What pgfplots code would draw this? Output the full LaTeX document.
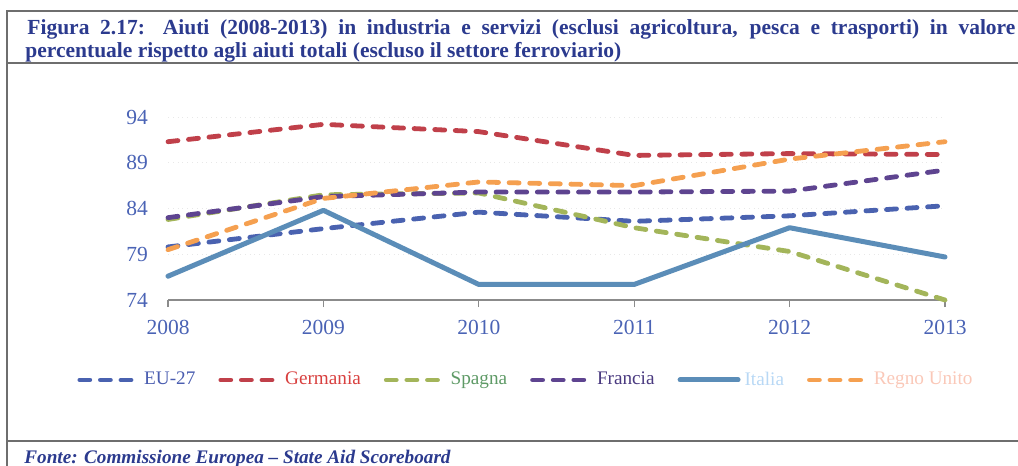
\documentclass[border=0pt]{standalone}
\usepackage{fontspec}
\setmainfont{Liberation Serif}
\usepackage{pgfplots}
\pgfplotsset{compat=1.18}
\definecolor{titleblue}{HTML}{2B3A8E}
\definecolor{tickblue}{HTML}{4A63B5}
\definecolor{cEU}{HTML}{4A62B0}
\definecolor{cDE}{HTML}{C0404A}
\definecolor{cES}{HTML}{A3B55A}
\definecolor{cFR}{HTML}{5E4490}
\definecolor{cIT}{HTML}{5B8DB8}
\definecolor{cUK}{HTML}{F5A050}
\definecolor{tEU}{HTML}{4A5DB0}
\definecolor{tDE}{HTML}{D8403F}
\definecolor{tES}{HTML}{5E9A66}
\definecolor{tFR}{HTML}{4A3A80}
\definecolor{tIT}{HTML}{B8D8F5}
\definecolor{tUK}{HTML}{FAC8B8}
\definecolor{framegray}{HTML}{6E6E6E}
\begin{document}
\begin{tikzpicture}
\path[use as bounding box] (0,0) rectangle (509pt,-233pt);
\clip (0,0) rectangle (509pt,-233pt);
% frame
\draw[framegray, line width=0.8pt] (3.5pt,-233pt) -- (3.5pt,-5.5pt) -- (509pt,-5.5pt);
\draw[framegray, line width=0.8pt] (3.5pt,-31.5pt) -- (509pt,-31.5pt);
\draw[framegray, line width=0.8pt] (3.5pt,-220.5pt) -- (509pt,-220.5pt);
% title
\node[anchor=base west, inner sep=0pt, text=titleblue, font=\fontsize{10.75}{10.5}\selectfont\bfseries] at (13.5pt,-17pt)
  {\makebox[494pt][s]{Figura 2.17: Aiuti (2008-2013) in industria e servizi (esclusi agricoltura, pesca e trasporti) in valore}};
\node[anchor=base west, inner sep=0pt, text=titleblue, font=\fontsize{10.75}{10.5}\selectfont\bfseries] at (12.5pt,-28.5pt)
  {percentuale rispetto agli aiuti totali (escluso il settore ferroviario)};
% source
\node[anchor=base west, inner sep=0pt, text=titleblue, font=\fontsize{9.6}{11}\selectfont\bfseries\itshape] at (12pt,-231.5pt)
  {Fonte: Commissione Europea – State Aid Scoreboard};
\begin{axis}[
  at={(84pt,-150pt)}, anchor=south west,
  width=388.5pt, height=91.5pt, scale only axis,
  xmin=2008, xmax=2013, ymin=74, ymax=94,
  xtick={2008,2009,2010,2011,2012,2013},
  ytick={74,79,84,89,94},
  clip=false,
  axis x line*=bottom, axis y line*=left,
  y axis line style={draw=none},
  x axis line style={framegray!80, line width=0.6pt},
  xtick pos=bottom, ytick pos=left,
  xtick style={framegray!80, line width=0.6pt},
  ytick style={draw=none},
  tick align=outside, major tick length=3.5pt,
  ymajorgrids, grid style={gray!18, dotted, line width=0.5pt},
  xticklabel style={/pgf/number format/1000 sep={}, yshift=-3pt},
  tick label style={font=\fontsize{10.75}{12}\selectfont, text=tickblue},
  /pgf/number format/assume math mode=true,
  yticklabel style={xshift=-3pt},
  legend columns=6,
  legend style={at={(-0.1171,-0.437)}, anchor=west, draw=none, fill=none,
    inner sep=0pt, font=\fontsize{9.6}{11}\selectfont,
    /tikz/every even column/.append style={column sep=9.5pt}},
  legend image code/.code={\draw[#1] (0pt,0pt) -- (29pt,0pt);},
  every axis plot/.append style={line width=2.4pt, line cap=round},
  dsh/.style={dash pattern=on 5pt off 5.3pt},
]
\addplot[cEU, dsh] coordinates {(2008,79.8) (2009,81.8) (2010,83.6) (2011,82.6) (2012,83.2) (2013,84.3)};
\addlegendentry{\textcolor{tEU}{EU-27}}
\addplot[cDE, dsh] coordinates {(2008,91.3) (2009,93.2) (2010,92.4) (2011,89.8) (2012,90.0) (2013,89.9)};
\addlegendentry{\textcolor{tDE}{Germania}}
\addplot[cES, dsh] coordinates {(2008,82.8) (2009,85.5) (2010,85.7) (2011,81.9) (2012,79.3) (2013,74.0)};
\addlegendentry{\textcolor{tES}{Spagna}}
\addplot[cFR, dsh] coordinates {(2008,83.0) (2009,85.3) (2010,85.8) (2011,85.8) (2012,85.9) (2013,88.2)};
\addlegendentry{\textcolor{tFR}{Francia}}
\addplot[cIT, line width=2.5pt, line join=round] coordinates {(2008,76.6) (2009,83.8) (2010,75.7) (2011,75.7) (2012,81.9) (2013,78.7)};
\addlegendentry{\textcolor{tIT}{Italia}}
\addplot[cUK, dsh] coordinates {(2008,79.5) (2009,85.1) (2010,86.9) (2011,86.5) (2012,89.4) (2013,91.3)};
\addlegendentry{\textcolor{tUK}{Regno Unito}}
\end{axis}
\end{tikzpicture}
\end{document}
